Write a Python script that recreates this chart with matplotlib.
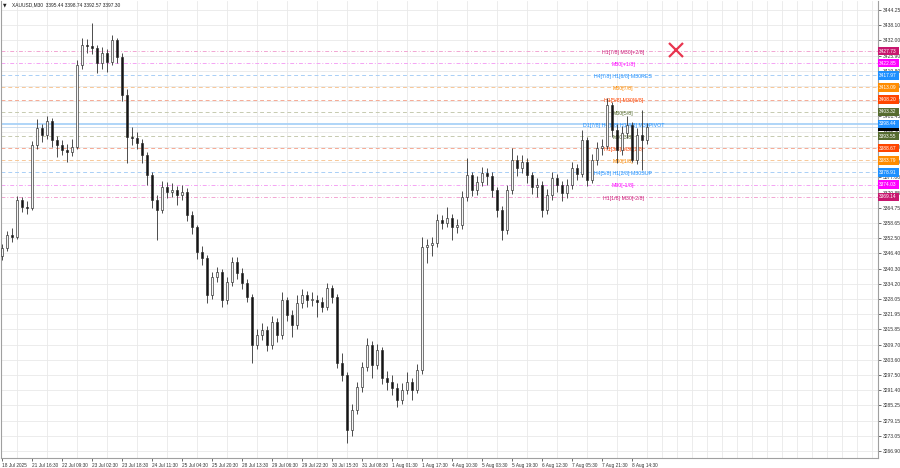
import matplotlib
matplotlib.use("Agg")
import matplotlib.pyplot as plt
import matplotlib.transforms as mtransforms

plt.rcParams['font.family'] = ['Liberation Sans', 'DejaVu Sans']

# ---- candle data (one candle ~ 2h of the M30 chart) ----
opens = [3345.20, 3348.55, 3353.78, 3352.97, 3367.85, 3365.04, 3364.64, 3389.97, 3396.80, 3393.99,
         3399.62, 3391.98, 3389.97, 3387.96, 3387.16, 3389.16, 3422.13, 3430.18, 3429.78, 3428.97,
         3422.94, 3426.96, 3423.34, 3432.19, 3425.35, 3410.07, 3393.18, 3392.78, 3390.77, 3385.95,
         3377.90, 3367.85, 3363.83, 3373.08, 3371.07, 3371.87, 3369.86, 3371.07, 3361.82, 3356.99,
         3346.94, 3344.53, 3329.65, 3336.89, 3338.90, 3327.64, 3334.88, 3342.92, 3338.50, 3334.48,
         3328.85, 3309.55, 3313.57, 3315.58, 3309.55, 3318.79, 3313.57, 3327.64, 3321.61, 3317.59,
         3326.43, 3329.65, 3327.64, 3327.64, 3326.84, 3324.83, 3332.47, 3328.85, 3302.31, 3297.48,
         3275.37, 3283.41, 3292.66, 3300.70, 3309.55, 3301.50, 3307.54, 3296.28, 3294.67, 3292.26,
         3287.43, 3291.45, 3294.67, 3291.45, 3299.49, 3348.95, 3349.75, 3350.56, 3359.81, 3358.60,
         3360.61, 3356.99, 3357.80, 3369.06, 3377.90, 3371.87, 3375.09, 3378.71, 3377.50, 3371.87,
         3363.83, 3355.79, 3371.87, 3383.93, 3380.72, 3383.13, 3377.90, 3373.08, 3373.88, 3363.83,
         3369.86, 3376.70, 3373.88, 3370.67, 3373.88, 3380.72, 3378.31, 3391.98, 3375.89, 3383.93,
         3388.76, 3389.56, 3406.05, 3396.00, 3387.96, 3394.79, 3398.01, 3383.93, 3393.99, 3391.98]
closes = [3348.55, 3353.78, 3352.97, 3367.85, 3365.04, 3364.64, 3389.97, 3396.80, 3393.99, 3399.62,
          3391.98, 3389.97, 3387.96, 3387.16, 3389.16, 3422.13, 3430.18, 3429.78, 3428.97, 3422.94,
          3426.96, 3423.34, 3432.19, 3425.35, 3410.07, 3393.18, 3392.78, 3390.77, 3385.95, 3377.90,
          3367.85, 3363.83, 3373.08, 3371.07, 3371.87, 3369.86, 3371.07, 3361.82, 3356.99, 3346.94,
          3344.53, 3329.65, 3336.89, 3338.90, 3327.64, 3334.88, 3342.92, 3338.50, 3334.48, 3328.85,
          3309.55, 3313.57, 3315.58, 3309.55, 3318.79, 3313.57, 3327.64, 3321.61, 3317.59, 3326.43,
          3329.65, 3327.64, 3327.64, 3326.84, 3324.83, 3332.47, 3328.85, 3302.31, 3297.48, 3275.37,
          3283.41, 3292.66, 3300.70, 3309.55, 3301.50, 3307.54, 3296.28, 3294.67, 3292.26, 3287.43,
          3291.45, 3294.67, 3291.45, 3299.49, 3348.95, 3349.75, 3350.56, 3359.81, 3358.60, 3360.61,
          3356.99, 3357.80, 3369.06, 3377.90, 3371.87, 3375.09, 3378.71, 3377.50, 3371.87, 3363.83,
          3355.79, 3371.87, 3383.93, 3380.72, 3383.13, 3377.90, 3373.08, 3373.88, 3363.83, 3369.86,
          3376.70, 3373.88, 3370.67, 3373.88, 3380.72, 3378.31, 3391.98, 3375.89, 3383.93, 3388.76,
          3389.56, 3406.05, 3396.00, 3387.96, 3394.79, 3398.01, 3383.93, 3393.99, 3391.98, 3397.30]
highs = [3350.1, 3355.4, 3356.5, 3369.3, 3369.0, 3367.4, 3391.5, 3400.4, 3398.6, 3401.7,
         3400.8, 3393.6, 3392.0, 3390.2, 3392.3, 3424.0, 3433.1, 3432.4, 3439.0, 3430.2,
         3429.4, 3428.5, 3434.3, 3433.0, 3427.0, 3412.4, 3397.2, 3395.0, 3392.4, 3387.0,
         3379.1, 3369.9, 3375.5, 3375.0, 3374.6, 3373.3, 3373.9, 3372.5, 3363.6, 3358.0,
         3349.3, 3345.8, 3338.9, 3341.1, 3340.2, 3337.0, 3345.0, 3344.9, 3340.7, 3336.0,
         3330.1, 3316.0, 3318.2, 3317.0, 3321.2, 3320.4, 3330.8, 3328.9, 3323.5, 3329.6,
         3332.0, 3331.4, 3330.9, 3329.8, 3329.0, 3334.5, 3333.7, 3330.2, 3306.5, 3298.6,
         3285.9, 3294.6, 3302.9, 3312.3, 3311.0, 3310.1, 3308.8, 3298.9, 3297.4, 3294.1,
         3294.3, 3298.5, 3296.3, 3302.0, 3353.0, 3352.3, 3353.1, 3362.4, 3362.0, 3365.0,
         3362.2, 3360.3, 3371.4, 3384.7, 3379.2, 3377.5, 3381.0, 3380.6, 3379.3, 3373.2,
         3365.3, 3374.0, 3388.7, 3386.0, 3385.9, 3384.6, 3379.3, 3376.6, 3375.4, 3372.2,
         3379.0, 3378.4, 3375.6, 3376.1, 3383.0, 3382.3, 3396.0, 3393.1, 3386.2, 3391.2,
         3392.4, 3408.9, 3407.2, 3398.3, 3397.5, 3401.5, 3399.4, 3397.0, 3404.0, 3398.74]
lows = [3343.6, 3347.2, 3350.9, 3352.0, 3363.2, 3362.3, 3363.9, 3388.5, 3391.2, 3392.5,
        3389.3, 3385.1, 3385.9, 3383.0, 3385.6, 3388.2, 3420.5, 3427.0, 3426.5, 3418.8,
        3420.6, 3419.2, 3422.0, 3423.1, 3407.6, 3382.7, 3390.1, 3388.3, 3382.8, 3373.9,
        3364.6, 3351.8, 3362.7, 3368.6, 3368.9, 3366.0, 3367.8, 3359.4, 3354.2, 3344.1,
        3341.7, 3326.4, 3328.1, 3334.9, 3324.8, 3326.1, 3333.4, 3336.2, 3332.0, 3326.7,
        3302.3, 3307.8, 3311.4, 3307.3, 3308.1, 3310.9, 3312.0, 3319.0, 3312.8, 3316.1,
        3324.5, 3324.9, 3325.3, 3321.0, 3322.7, 3323.6, 3326.5, 3300.4, 3294.9, 3270.1,
        3273.0, 3281.7, 3290.5, 3299.2, 3296.4, 3299.7, 3294.0, 3291.6, 3289.6, 3284.6,
        3286.0, 3290.0, 3287.5, 3290.1, 3298.0, 3342.5, 3345.2, 3349.0, 3356.0, 3356.9,
        3351.8, 3354.5, 3356.3, 3367.5, 3369.4, 3370.0, 3373.6, 3373.9, 3369.0, 3361.0,
        3351.8, 3354.2, 3370.3, 3377.4, 3378.8, 3374.6, 3370.2, 3369.0, 3361.0, 3362.2,
        3368.0, 3371.0, 3367.4, 3368.8, 3372.1, 3375.9, 3377.0, 3373.6, 3374.5, 3382.0,
        3386.1, 3388.3, 3393.0, 3382.7, 3386.0, 3392.6, 3383.1, 3382.5, 3379.9, 3390.5]

# ---- Murrey levels ----
level_prices = [3427.73, 3422.85, 3417.97, 3413.09, 3408.20, 3403.32, 3398.44,
                3393.55, 3388.67, 3383.79, 3378.91, 3374.03, 3369.14]
level_labels = ["H1[7/8] M30[+2/8]", "M30[+1/8]", "H4[7/8] H1[6/8] M30RES", "M30[7/8]",
                "H1[5/8] M30[6/8]", "M30[5/8]", "D1[7/8] H4[6/8] H1[4/8] M30PIVOT",
                "M30[3/8]", "H1[3/8] M30[2/8]", "M30[1/8]", "H4[5/8] H1[2/8] M30SUP",
                "M30[-1/8]", "H1[1/8] M30[-2/8]"]
level_kind = ["crim", "mag", "blue", "orng", "red", "olive", "pivot",
              "olive", "red", "orng", "blue", "mag", "crim"]

last_price = 3397.30
cross_bar, cross_price = 134.8, 3428.2

y_ticks = [3266.90, 3273.05, 3279.15, 3285.25, 3291.40, 3297.50, 3303.60, 3309.70, 3315.85,
           3321.95, 3328.05, 3334.20, 3340.30, 3346.40, 3352.50, 3358.65, 3364.75, 3370.85,
           3377.00, 3383.10, 3389.20, 3395.30, 3401.45, 3407.55, 3413.65, 3419.80, 3425.90,
           3432.00, 3438.10, 3444.25]
x_labels = ["18 Jul 2025", "21 Jul 16:30", "22 Jul 09:30", "23 Jul 02:30", "23 Jul 18:30",
            "24 Jul 11:30", "25 Jul 04:30", "25 Jul 20:30", "28 Jul 13:30", "29 Jul 06:30",
            "29 Jul 22:30", "30 Jul 15:30", "31 Jul 08:30", "1 Aug 01:30", "1 Aug 17:30",
            "4 Aug 10:30", "5 Aug 03:30", "5 Aug 19:30", "6 Aug 12:30", "7 Aug 05:30",
            "7 Aug 21:30", "8 Aug 14:30"]

styles = {
    "crim":  dict(line="#f2a6d2", txt="#cc1f78", tag="#c8176f", ls=(0, (4, 2, 1, 2))),
    "mag":   dict(line="#f4a4f4", txt="#ff00ff", tag="#ff00ff", ls=(0, (4, 2, 1, 2))),
    "blue":  dict(line="#a9cff6", txt="#1e90ff", tag="#1e90ff", ls=(0, (4, 3))),
    "orng":  dict(line="#f8c898", txt="#ff8c00", tag="#ff8c00", ls=(0, (4, 3))),
    "red":   dict(line="#f6aa94", txt="#ff4500", tag="#ff4500", ls=(0, (4, 3))),
    "olive": dict(line="#c6cab0", txt="#556b2f", tag="#556b2f", ls=(0, (4, 3))),
    "pivot": dict(line="#a9d2f8", txt="#1e90ff", tag="#1e90ff", ls="-"),
}

fig = plt.figure(figsize=(9, 4.68), dpi=100)
ax = fig.add_axes([1 / 900, 10 / 468, 877 / 900, 457 / 468])
ax.set_xlim(-0.2, 175.2)
ax.set_ylim(3264.11, 3447.87)

# grid
ax.set_xticks(range(0, 175, 3), minor=True)
ax.grid(which="minor", axis="x", color="#e9e9e9", lw=0.6)
ax.set_yticks(y_ticks)
ax.grid(which="major", axis="y", color="#e9e9e9", lw=0.6)
ax.set_axisbelow(True)

# level lines
for p, k in zip(level_prices, level_kind):
    st = styles[k]
    ax.axhline(p, color=st["line"], lw=1.3 if k == "pivot" else 0.7, ls=st["ls"], zorder=1)
ax.axhline(last_price, color="#c4d8ec", lw=0.6, zorder=1)

# level labels (drawn under the candles, as in the terminal)
blend = mtransforms.blended_transform_factory(ax.transAxes, ax.transData)
for p, lab, k in zip(level_prices, level_labels, level_kind):
    ax.text(0.7096, p - 0.5, lab, transform=blend, ha="center", va="center",
            fontsize=3.8, color=styles[k]["txt"], zorder=2)

# candles
xs = list(range(len(closes)))
ax.vlines(xs, lows, highs, color="#303030", lw=0.6, zorder=3)
for i in xs:
    o, c = opens[i], closes[i]
    bull = c >= o
    ax.bar(i, max(abs(c - o), 0.25), bottom=min(o, c), width=0.42,
           color="#f4f4f4" if bull else "#151515", edgecolor="#2a2a2a", lw=0.45, zorder=4)

# price tags on the right
ax.text(1.0015, last_price, f"{last_price:.2f}", transform=blend, ha="left", va="center",
        fontsize=3.5, color="white", clip_on=False, zorder=6,
        bbox=dict(boxstyle="square,pad=0.35", fc="black", ec="none"))
for p, k in zip(level_prices, level_kind):
    ax.text(1.0015, p, f"{p:.2f}", transform=blend, ha="left", va="center",
            fontsize=3.5, color="white", clip_on=False, zorder=7,
            bbox=dict(boxstyle="square,pad=0.35", fc=styles[k]["tag"], ec="none"))

# red cross
ax.plot(cross_bar, cross_price, marker="x", ms=10, mew=1.6, color="#e8354f", zorder=6)

# axes styling
ax.yaxis.tick_right()
ax.tick_params(axis="y", which="major", length=2, pad=1.5, labelsize=3.6,
               colors="#333333", width=0.5)
ax.set_yticklabels([f"{v:.2f}" for v in y_ticks])
ax.set_xticks([6 * k for k in range(len(x_labels))])
ax.set_xticklabels(x_labels, ha="left")
ax.tick_params(axis="x", which="major", length=2, pad=1.5, labelsize=3.4,
               colors="#333333", width=0.5)
ax.tick_params(axis="x", which="minor", length=0)
for s in ["left", "bottom", "right"]:
    ax.spines[s].set_color("#a0a0a0")
    ax.spines[s].set_linewidth(0.8)
ax.spines["top"].set_visible(False)

fig.text(3 / 900, 1 - 5 / 468, "▼", fontsize=3.3, color="#222222", va="center",
         family=["DejaVu Sans"])
fig.text(12 / 900, 1 - 5 / 468, "XAUUSD,M30  3395.44 3398.74 3392.57 3397.30",
         fontsize=3.5, color="#222222", va="center")

fig.savefig("out.png", dpi=100, facecolor="white")
